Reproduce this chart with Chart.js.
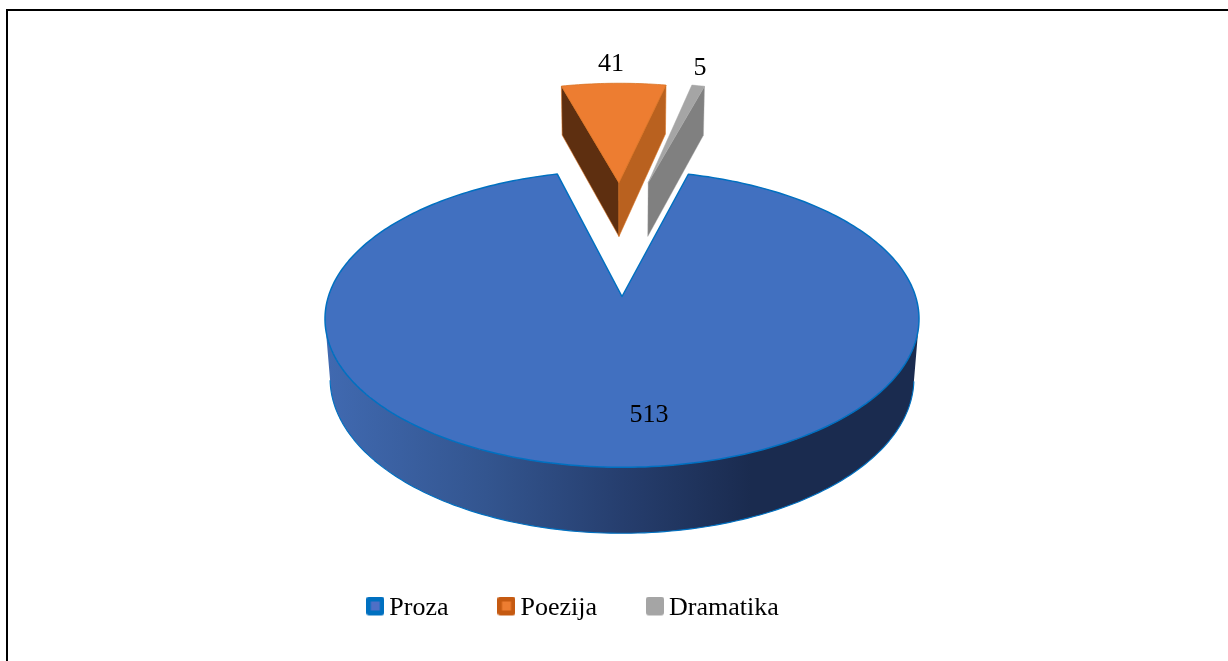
<!DOCTYPE html>
<html>
<head>
<meta charset="utf-8">
<style>html,body{margin:0;padding:0;background:#fff}canvas{display:block}</style>
<script src="https://cdn.jsdelivr.net/npm/chart.js@4"></script>
</head>
<body>
<canvas id="c" width="1228" height="661"></canvas>
<script>
const categories = ['Proza', 'Poezija', 'Dramatika'];
const values = [513, 41, 5];

const faceColors = ['#4170c0', '#ed7d31', '#a5a5a5'];
const edgeColors = ['#0070c0', '#d8701f', '#a5a5a5'];
const edgeWidths = [1.5, 0.75, 0.5];
const markerOuter = ['#0070c0', '#c55a11', '#a5a5a5'];
const markerInner = ['#4f6fc6', '#ed7d31', '#a5a5a5'];
const startWallColors = ['#1a2b4f', '#5e2f10', '#808080'];
const endWallColors = ['#1a2b4f', '#b9611f', '#808080'];
const rimStops = [[0, '#4069b0'], [0.27, '#33558f'], [0.5, '#263e6e'], [0.72, '#1a2b4f'], [1, '#1a2b4f']];

// slice explosion, in pie radii (across, towards the viewer)
const explodeU = [0, -0.012, 0.101];
const explodeV = [0, -0.89, -0.89];
// value label offset from the pie centre, px (baseline)
const labelDX = [27, -11, 78];
const labelDY = [125, -226, -222];

// 3D view
const TILT = 0.494, PERSP = 0.151, DEPTH = 0.2044, DEPTH_PERSP = 0.017;

function project(arc, u, v, z) {
  const R = arc.outerRadius;
  const w = 1 - PERSP * v + DEPTH_PERSP * z;
  return { x: arc.x + R * u / w, y: arc.y + R * (TILT * v + DEPTH * z) / w };
}
function poly(ctx, pts) {
  ctx.beginPath();
  pts.forEach((p, i) => i ? ctx.lineTo(p.x, p.y) : ctx.moveTo(p.x, p.y));
  ctx.closePath();
}
function facing(a, b) { return (b.x - a.x) < 0; }

Chart.ArcElement.prototype.draw = function (ctx) {
  const i = this.$context.dataIndex;
  const eu = explodeU[i], ev = explodeV[i];
  const stroke = this.options.borderColor, lw = this.options.borderWidth;
  const n = Math.max(4, Math.ceil((this.endAngle - this.startAngle) / 0.02));
  const rim = [];
  for (let k = 0; k <= n; k++) {
    const a = this.startAngle + (this.endAngle - this.startAngle) * k / n;
    rim.push([eu + Math.cos(a), ev + Math.sin(a)]);
  }
  const top = (p) => project(this, p[0], p[1], 0);
  const bot = (p) => project(this, p[0], p[1], 1);
  const apex = [eu, ev];
  ctx.save();
  ctx.lineJoin = 'round';
  ctx.lineWidth = lw * 0.75;
  ctx.strokeStyle = stroke;

  // outer rim wall
  const visTop = [], visBot = [];
  for (let k = 0; k < rim.length; k++) {
    const next = rim[Math.min(k + 1, rim.length - 1)], prev = rim[Math.max(k - 1, 0)];
    if (facing(top(prev), top(next))) { visTop.push(top(rim[k])); visBot.push(bot(rim[k])); }
  }
  if (visTop.length > 1) {
    const g = ctx.createLinearGradient(this.x - this.outerRadius, 0, this.x + this.outerRadius, 0);
    rimStops.forEach(s => g.addColorStop(s[0], s[1]));
    ctx.fillStyle = i === 0 ? g : startWallColors[i];
    poly(ctx, visTop.concat(visBot.slice().reverse()));
    ctx.fill();
    ctx.beginPath();
    visBot.forEach((p, k) => k ? ctx.lineTo(p.x, p.y) : ctx.moveTo(p.x, p.y));
    ctx.stroke();
  }
  // radial walls
  const first = rim[0], last = rim[rim.length - 1];
  if (facing(top(apex), top(first))) {
    ctx.fillStyle = startWallColors[i];
    poly(ctx, [top(apex), top(first), bot(first), bot(apex)]);
    ctx.fill(); ctx.stroke();
  }
  if (facing(top(last), top(apex))) {
    ctx.fillStyle = endWallColors[i];
    poly(ctx, [top(last), top(apex), bot(apex), bot(last)]);
    ctx.fill(); ctx.stroke();
  }
  // top face
  ctx.lineWidth = lw;
  ctx.fillStyle = this.options.backgroundColor;
  poly(ctx, [top(apex)].concat(rim.map(top)));
  ctx.fill(); ctx.stroke();
  ctx.restore();
};

function marker(i) {
  const c = document.createElement('canvas');
  c.width = 18; c.height = 23;
  const x = c.getContext('2d');
  x.fillStyle = markerOuter[i];
  x.beginPath(); x.roundRect(0, 0, 18, 19, 3); x.fill();
  x.fillStyle = markerInner[i];
  x.fillRect(4.5, 5, 9, 9);
  return c;
}

const decor = {
  id: 'decor',
  afterLayout(chart) {
    const l = chart.legend;
    const dx = -45.5, dy = 538 - l.top;
    l.left += dx; l.right += dx; l.top += dy; l.bottom += dy;
  },
  beforeDraw(chart) {
    const c = chart.ctx;
    c.save();
    c.fillStyle = '#fff';
    c.fillRect(0, 0, chart.width, chart.height);
    c.fillStyle = '#000';
    c.fillRect(6, 9, chart.width - 6, 2);
    c.fillRect(6, 9, 2, chart.height - 9);
    c.restore();
  },
  afterDatasetsDraw(chart) {
    const c = chart.ctx, arcs = chart.getDatasetMeta(0).data;
    c.save();
    c.fillStyle = '#000';
    c.font = '26px "Liberation Serif"';
    c.textAlign = 'center';
    c.textBaseline = 'alphabetic';
    values.forEach((v, i) => c.fillText(String(v), arcs[i].x + labelDX[i], arcs[i].y + labelDY[i]));
    c.restore();
  }
};

new Chart(document.getElementById('c'), {
  type: 'pie',
  data: {
    labels: categories,
    datasets: [{ data: values, backgroundColor: faceColors, borderColor: edgeColors, borderWidth: edgeWidths }]
  },
  options: {
    responsive: false,
    animation: false,
    rotation: 15,
    radius: 293.6,
    layout: { padding: { left: 16, top: 25, right: 0, bottom: 0 } },
    plugins: {
      tooltip: { enabled: false },
      legend: {
        position: 'bottom',
        labels: {
          usePointStyle: true,
          boxWidth: 2,
          padding: 57,
          color: '#000',
          font: { family: '"Liberation Serif"', size: 26 },
          generateLabels: () => categories.map((t, i) => ({
            text: t, fillStyle: faceColors[i], strokeStyle: edgeColors[i], lineWidth: 0,
            pointStyle: marker(i), hidden: false, index: i, fontColor: '#000'
          }))
        }
      }
    }
  },
  plugins: [decor]
});
</script>
</body>
</html>
